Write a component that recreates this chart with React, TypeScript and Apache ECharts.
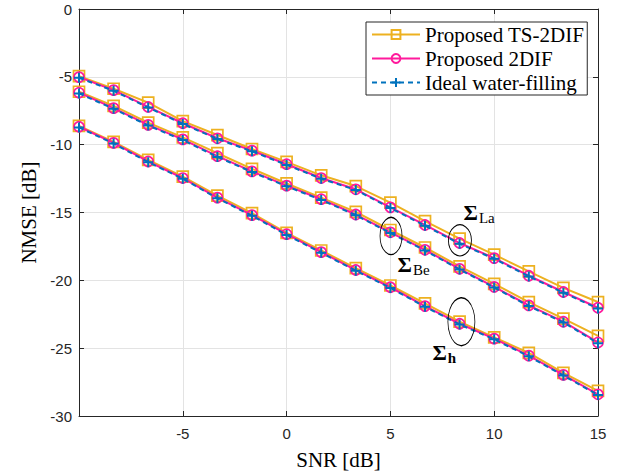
import React, { useEffect, useRef } from "react";
import * as echarts from "echarts";

const snr = [-10, -8.333, -6.667, -5, -3.333, -1.667, 0, 1.667, 3.333, 5, 6.667, 8.333, 10, 11.667, 13.333, 15];

const tsLa = [-4.95, -5.88, -6.9, -8.27, -9.29, -10.32, -11.27, -12.26, -13.05, -14.27, -15.63, -16.93, -18.1, -19.34, -20.56, -21.6];
const difLa = [-5.02, -5.98, -7.22, -8.42, -9.53, -10.44, -11.44, -12.46, -13.29, -14.62, -15.92, -17.25, -18.36, -19.66, -20.86, -22.02];
const idealLa = [-5.07, -6.03, -7.26, -8.47, -9.58, -10.49, -11.49, -12.51, -13.34, -14.67, -15.97, -17.3, -18.41, -19.71, -20.91, -22.08];

const tsBe = [-6.1, -7.14, -8.37, -9.46, -10.63, -11.78, -12.86, -13.9, -14.95, -16.29, -17.58, -18.97, -20.26, -21.6, -22.82, -24.1];
const difBe = [-6.17, -7.31, -8.54, -9.61, -10.85, -11.97, -13.02, -14.02, -15.15, -16.46, -17.75, -19.15, -20.48, -21.85, -23.05, -24.58];
const idealBe = [-6.22, -7.36, -8.59, -9.66, -10.9, -12.02, -13.07, -14.07, -15.2, -16.51, -17.8, -19.2, -20.53, -21.9, -23.1, -24.63];

const tsH = [-8.62, -9.8, -11.12, -12.35, -13.76, -15.05, -16.5, -17.8, -19.1, -20.38, -21.7, -23.05, -24.2, -25.35, -26.82, -28.15];
const difH = [-8.68, -9.87, -11.24, -12.46, -13.9, -15.19, -16.6, -17.92, -19.24, -20.51, -21.9, -23.2, -24.3, -25.55, -26.97, -28.4];
const idealH = [-8.73, -9.92, -11.29, -12.51, -13.95, -15.24, -16.65, -17.97, -19.29, -20.56, -21.95, -23.25, -24.35, -25.6, -27.02, -28.45];

const names = ["Proposed TS-2DIF", "Proposed 2DIF", "Ideal water-filling"];

// annotation ellipses: [x, y, width, height]
const ellipses: [number, number, number, number][] = [
  [8.35, -17.05, 23, 31],
  [5.03, -16.73, 22, 37],
  [8.42, -23.05, 27, 48],
];
// annotation labels: [x, y, subscript, boldSub]
const labels: [number, number, string, boolean][] = [
  [8.5, -15.0, "La", false],
  [5.32, -18.85, "Be", false],
  [7.0, -25.3, "h", true],
];

const AXIS = "#262626";
const SERIF = "'Liberation Serif', 'Times New Roman', serif";
const SANS = "'Liberation Sans', Arial, sans-serif";
const YEL = "#EDB120";
const MAG = "#FF1A9C";
const BLU = "#0072BD";
const PLUS = "path://M5,0L5,10M0,5L10,5";

function zip(ys: number[]) {
  return snr.map((x, i) => [x, ys[i]]);
}

export default function App() {
  const ref = useRef<HTMLDivElement>(null);
  useEffect(() => {
    if (!ref.current) return;
    const chart = echarts.init(ref.current, undefined, { renderer: "svg" });

    const tsSeries = (d: number[]) => ({
      type: "line",
      name: names[0],
      data: zip(d),
      symbol: "rect",
      symbolSize: 11,
      lineStyle: { color: YEL, width: 2 },
      itemStyle: { color: "transparent", borderColor: YEL, borderWidth: 1.7 },
      z: 2,
    });
    const difSeries = (d: number[]) => ({
      type: "line",
      name: names[1],
      data: zip(d),
      symbol: "circle",
      symbolSize: 10,
      lineStyle: { color: MAG, width: 2 },
      itemStyle: { color: "transparent", borderColor: MAG, borderWidth: 1.7 },
      z: 3,
    });
    const idealSeries = (d: number[], extra: any = {}) => ({
      type: "line",
      name: names[2],
      data: zip(d),
      symbol: PLUS,
      symbolSize: 10,
      lineStyle: { color: BLU, width: 2, type: [5, 4] },
      itemStyle: { color: BLU, borderColor: BLU, borderWidth: 2 },
      z: 4,
      ...extra,
    });

    const markData: any[] = [];
    ellipses.forEach(([x, y, w, h]) => {
      markData.push({
        coord: [x, y],
        symbol: "circle",
        symbolSize: [w, h],
        itemStyle: { color: "transparent", borderColor: "#000", borderWidth: 1 },
        label: { show: false },
      });
    });
    labels.forEach(([x, y, sub, bold]) => {
      markData.push({
        coord: [x, y],
        symbol: "circle",
        symbolSize: 1,
        itemStyle: { color: "transparent", borderWidth: 0 },
        label: {
          show: true,
          position: "right",
          distance: 0,
          formatter: bold ? `{a|Σ}{c|${sub}}` : `{a|Σ}{b|${sub}}`,
          rich: {
            a: { fontFamily: SERIF, fontSize: 22, fontWeight: "bold", color: "#000", lineHeight: 26, verticalAlign: "middle" },
            b: { fontFamily: SERIF, fontSize: 15, color: "#000", lineHeight: 14, verticalAlign: "bottom", padding: [10, 0, 0, 1] },
            c: { fontFamily: SERIF, fontSize: 15, fontWeight: "bold", color: "#000", lineHeight: 14, verticalAlign: "bottom", padding: [10, 0, 0, 1] },
          },
        },
      });
    });

    const baseAxis = {
      type: "value",
      axisLine: { show: true, onZero: false, lineStyle: { color: AXIS, width: 1 } },
      axisTick: { show: true, inside: true, length: 5, lineStyle: { color: AXIS } },
    };

    chart.setOption({
      animation: false,
      backgroundColor: "#fff",
      grid: { left: 79, right: 27, top: 9, bottom: 56, containLabel: false },
      legend: {
        left: 366,
        top: 22,
        orient: "vertical",
        data: names,
        itemWidth: 48,
        itemHeight: 11,
        itemGap: 3,
        padding: [2, 3, 2, 5],
        borderColor: AXIS,
        borderWidth: 1,
        backgroundColor: "#fff",
        textStyle: { fontFamily: SERIF, fontSize: 21, color: "#000", lineHeight: 20 },
      },
      xAxis: [
        {
          ...baseAxis,
          min: -10,
          max: 15,
          interval: 5,
          name: "SNR [dB]",
          nameLocation: "middle",
          nameGap: 33,
          nameTextStyle: { fontFamily: SERIF, fontSize: 21, color: "#000" },
          axisLabel: {
            fontFamily: SANS,
            fontSize: 15,
            color: AXIS,
            margin: 10,
            formatter: (v: number) => (v === -10 ? "" : String(v)),
          },
          splitLine: { show: true, lineStyle: { color: "#e3e3e3", width: 1 } },
        },
        {
          ...baseAxis,
          position: "top",
          min: -10,
          max: 15,
          interval: 5,
          axisLabel: { show: false },
          splitLine: { show: false },
        },
      ],
      yAxis: [
        {
          ...baseAxis,
          min: -30,
          max: 0,
          interval: 5,
          name: "NMSE [dB]",
          nameLocation: "middle",
          nameGap: 39,
          nameTextStyle: { fontFamily: SERIF, fontSize: 21, color: "#000" },
          axisLabel: { fontFamily: SANS, fontSize: 15, color: AXIS, margin: 7 },
          splitLine: { show: true, lineStyle: { color: "#e3e3e3", width: 1 } },
        },
        {
          ...baseAxis,
          position: "right",
          min: -30,
          max: 0,
          interval: 5,
          axisLabel: { show: false },
          splitLine: { show: false },
        },
      ],
      series: [
        tsSeries(tsLa),
        tsSeries(tsBe),
        tsSeries(tsH),
        difSeries(difLa),
        difSeries(difBe),
        difSeries(difH),
        idealSeries(idealLa),
        idealSeries(idealBe),
        idealSeries(idealH, { markPoint: { silent: true, data: markData, z: 10 } }),
      ],
    });
    return () => chart.dispose();
  }, []);
  return (
    <div
      ref={ref}
      style={{ position: "fixed", left: 0, top: 0, width: 625, height: 475, background: "#fff" }}
    />
  );
}
